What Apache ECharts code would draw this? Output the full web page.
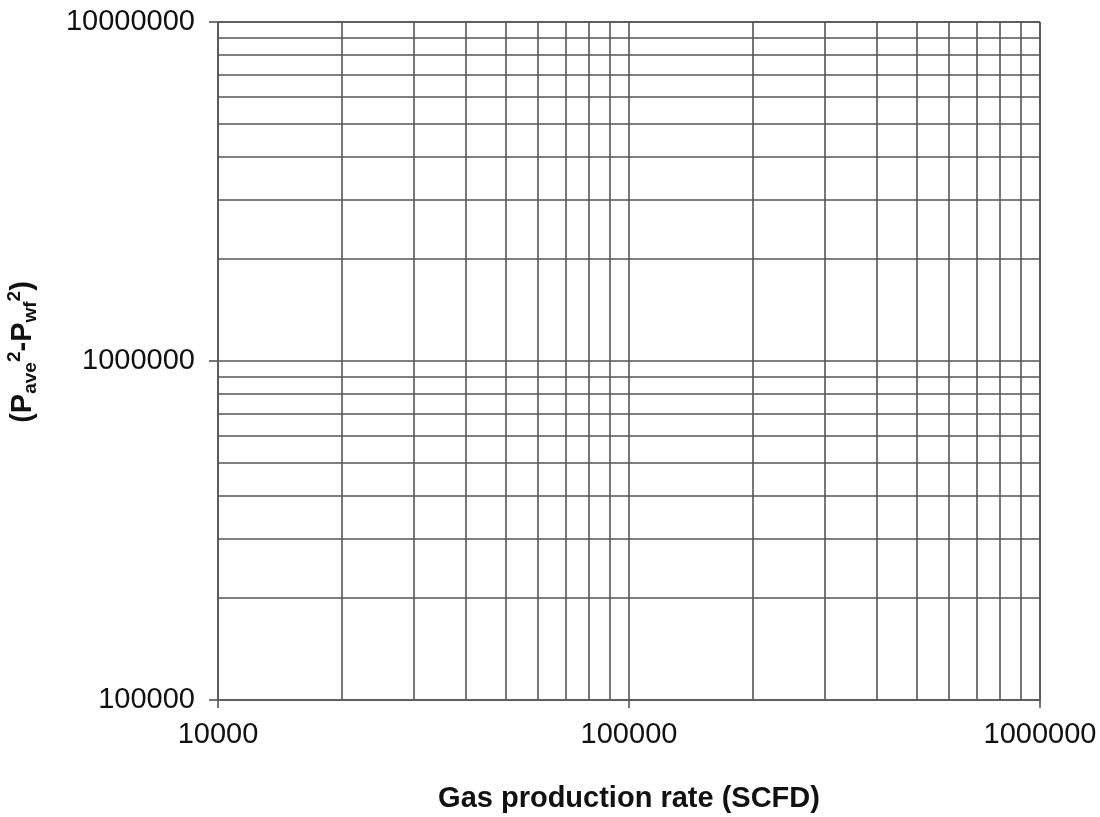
<!DOCTYPE html>
<html>
<head>
<meta charset="utf-8">
<script src="https://cdn.jsdelivr.net/npm/echarts@6/dist/echarts.min.js"></script>
<style>html,body{margin:0;padding:0;background:#fff}#c{width:1100px;height:817px}</style>
</head>
<body>
<div id="c"></div>
<script>
const xMin = 10000, xMax = 1000000;
const yMin = 100000, yMax = 10000000;
const xGridValues = [20000,30000,40000,50000,60000,70000,80000,90000,200000,300000,400000,500000,600000,700000,800000,900000];
const yGridValues = [200000,300000,400000,500000,600000,700000,800000,900000,2000000,3000000,4000000,5000000,6000000,7000000,8000000,9000000];
const xTitle = 'Gas production rate (SCFD)';

const lineColor = '#555';
const chart = echarts.init(document.getElementById('c'), null, {renderer:'canvas'});
const gridLine = {color: lineColor, width: 1.6, type: 'solid'};
chart.setOption({
  animation: false,
  backgroundColor: '#fff',
  grid: {left: 218, top: 22, width: 822, height: 678, show: false, containLabel: false, outerBoundsMode: 'none'},
  xAxis: {
    type: 'log', logBase: 10, min: xMin, max: xMax,
    axisLine: {show: true, onZero: false, lineStyle: gridLine},
    axisTick: {show: true, length: 8, lineStyle: gridLine},
    splitLine: {show: true, lineStyle: gridLine},
    axisLabel: {color: '#111', fontFamily: 'Liberation Sans', fontSize: 29, margin: 20,
      formatter: v => String(Math.round(v))},
    name: xTitle, nameLocation: 'middle', nameGap: 84,
    nameTextStyle: {color: '#111', fontFamily: 'Liberation Sans', fontWeight: 'bold', fontSize: 29}
  },
  yAxis: {
    type: 'log', logBase: 10, min: yMin, max: yMax,
    axisLine: {show: true, onZero: false, lineStyle: gridLine},
    axisTick: {show: true, length: 9, lineStyle: gridLine},
    splitLine: {show: true, lineStyle: gridLine},
    axisLabel: {color: '#111', fontFamily: 'Liberation Sans', fontSize: 29, margin: 23,
      formatter: v => String(Math.round(v))},
    name: '{p|(P}{sub|ave}{sup|2}{p|-P}{sub|wf}{sup|2}{p|)}',
    nameLocation: 'middle', nameGap: 178, nameRotate: 90,
    nameTextStyle: {
      color: '#111', fontFamily: 'Liberation Sans', fontWeight: 'bold', fontSize: 29,
      padding: [0, 0, 0, 18],
      rich: {
        p: {fontFamily: 'Liberation Sans', fontWeight: 'bold', fontSize: 29, color: '#111'},
        sub: {fontFamily: 'Liberation Sans', fontWeight: 'bold', fontSize: 19, color: '#111', padding: [16,0,0,0]},
        sup: {fontFamily: 'Liberation Sans', fontWeight: 'bold', fontSize: 19, color: '#111', padding: [0,0,16,0]}
      }
    }
  },
  series: [{
    type: 'scatter', data: [], silent: true,
    markLine: {
      silent: true, symbol: ['none','none'], label: {show: false}, animation: false,
      lineStyle: gridLine,
      data: xGridValues.map(v => ({xAxis: v})).concat(yGridValues.map(v => ({yAxis: v})))
    }
  }, {
    type: 'scatter', data: [], silent: true,
    markLine: {
      silent: true, symbol: ['none','none'], label: {show: false}, animation: false,
      lineStyle: gridLine,
      data: [{xAxis: xMax}, {yAxis: yMax}]
    }
  }]
});
</script>
</body>
</html>
